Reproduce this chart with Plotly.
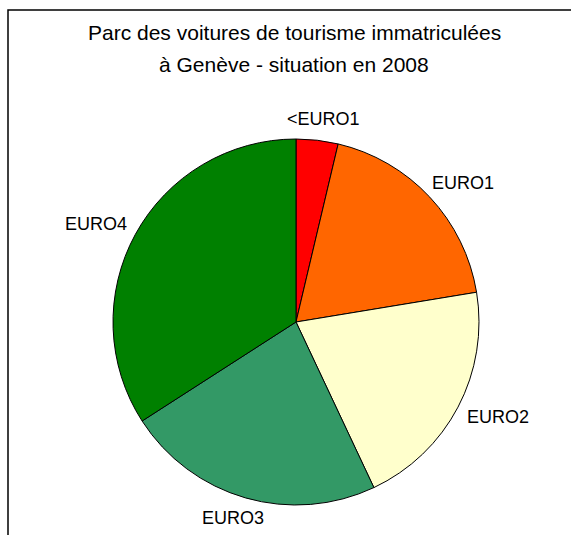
import math
import plotly.graph_objects as go

labels = ["<EURO1", "EURO1", "EURO2", "EURO3", "EURO4"]
values = [3.7, 18.7, 20.6, 22.9, 34.1]
colors = ["#FF0000", "#FF6600", "#FFFFCC", "#339966", "#008000"]
title_lines = ["Parc des voitures de tourisme immatriculées", "à Genève - situation en 2008"]

W, H = 571, 535
cx, cy, r = 296, 322, 183
FONT = "Liberation Sans, Arial"

fig = go.Figure(go.Pie(
    labels=labels, values=values, sort=False, direction="clockwise", rotation=0,
    marker=dict(colors=colors, line=dict(color="black", width=1)),
    textinfo="none",
    showlegend=False, hoverinfo="label+percent",
    domain=dict(x=[(cx - r) / W, (cx + r) / W], y=[1 - (cy + r) / H, 1 - (cy - r) / H]),
))

# outside labels positioned from the slice mid-angles
annotations = []
total = sum(values)
cum = 0.0
for lab, v in zip(labels, values):
    mid = (cum + v / 2) / total * 2 * math.pi
    cum += v
    s, c = math.sin(mid), math.cos(mid)
    px = cx + (r + 14) * s
    py = cy - (r + 14) * c
    w, h = 12.3 * len(lab), 14
    lx = px + w / 2 * s
    ly = py - h / 2 * c
    annotations.append(dict(text=lab, x=lx / W, y=1 - ly / H, xref="paper", yref="paper",
                            showarrow=False, xanchor="center", yanchor="middle",
                            font=dict(family=FONT, size=18, color="black")))

annotations += [
    dict(text=title_lines[0], x=294 / W, y=1 - 33 / H, xref="paper", yref="paper",
         showarrow=False, xanchor="center", yanchor="middle", font=dict(family=FONT, size=21)),
    dict(text=title_lines[1], x=294 / W, y=1 - 64.5 / H, xref="paper", yref="paper",
         showarrow=False, xanchor="center", yanchor="middle", font=dict(family=FONT, size=21)),
]

fig.update_layout(
    width=W, height=H, margin=dict(l=0, r=0, t=0, b=0),
    paper_bgcolor="white", plot_bgcolor="white",
    font=dict(family=FONT, size=18, color="black"),
    shapes=[dict(type="rect", xref="paper", yref="paper",
                 x0=8 / W, x1=1.05, y0=-0.05, y1=1 - 10 / H,
                 line=dict(color="black", width=1.5), fillcolor="rgba(0,0,0,0)")],
    annotations=annotations,
)

fig.write_html("out.html", config={"displayModeBar": False},
               post_script="document.body.style.margin='0';document.body.style.overflow='hidden';")
